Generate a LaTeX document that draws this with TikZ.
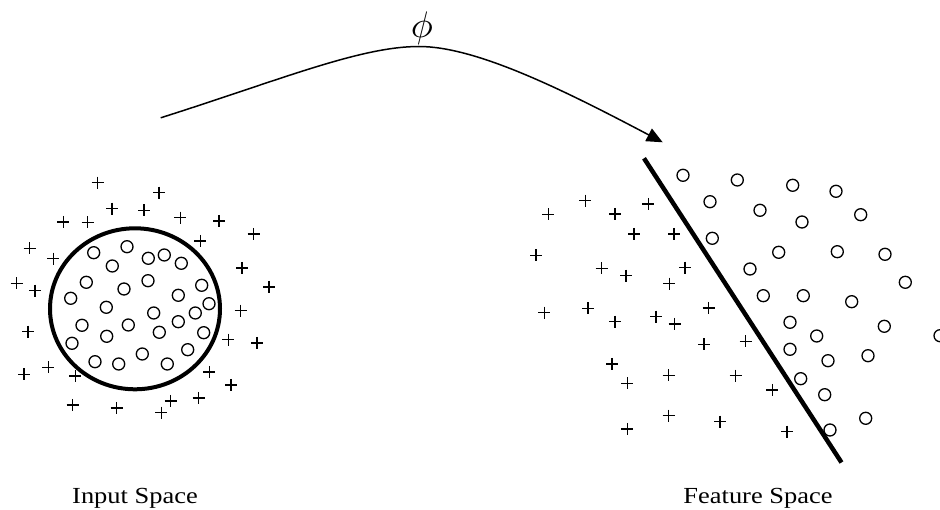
\documentclass[tikz,border=0pt]{standalone}
\usepackage{fontspec}
\setmainfont{Liberation Serif}
\usetikzlibrary{arrows.meta}
\begin{document}
\begin{tikzpicture}[x=1pt,y=-1pt,
  plusmark/.style={line width=1.4pt},
  ring/.style={line width=1.3pt},
  sep/.style={line width=4.5pt},
  lbl/.style={inner sep=0pt, anchor=base, font=\fontsize{23}{27}\selectfont},
  maparrow/.style={line width=1.5pt, -{Triangle[length=16pt,width=14pt]}}]
\clip (0,0) rectangle (940,510);
% Input space
\draw[line width=4pt] (135,308.8) ellipse [x radius=85pt, y radius=80.5pt];
\foreach \x/\y in {97.7/182.7, 159/192.7, 112/208.7, 144/210.3, 63.3/222, 87.7/222.3, 180.3/217.7, 219/221, 253.7/234, 29.7/248.3, 53.3/258.7, 200.3/241, 242/268, 16.7/283.3, 35/290.7, 269/287, 240.7/310.7, 28/331.7, 228.3/339.7, 257/343, 24/374.3, 48.3/367.3, 75.3/376, 209.3/372, 231/385, 72.7/405, 116.7/408, 170.7/401, 161.3/412.7, 198.7/398}
  \draw[plusmark] ({\x-6},\y) -- ({\x+6},\y) (\x,{\y-6}) -- (\x,{\y+6});
\foreach \x/\y in {93.7/252.7, 127/246.7, 148.3/258.3, 164.3/255, 181.3/263.3, 112.3/266, 86.3/282.3, 148/280.7, 124/289, 70.7/298.3, 201.7/285.3, 178.3/295.3, 209/303.7, 106.3/307.3, 153.7/313, 195.3/313, 82/325.3, 128.3/325, 178.3/321.7, 159.3/332.3, 203.7/332.7, 106.7/336.3, 72/343.3, 187.7/349.7, 142.3/354, 95/361.7, 118.7/364, 167.3/364}
  \draw[ring] (\x,\y) circle [radius=6pt];
% Feature space
\foreach \x/\y in {585.3/200.7, 548.3/214.3, 615/214, 648.3/204, 634/234, 674/234, 536/255.3, 601.7/268.3, 626/275.7, 685/267.7, 669.3/283.7, 544.3/312.7, 588/308.3, 615/321.7, 656/316.7, 674.7/324, 708.7/308, 704/344.3, 612/364, 627.3/383.3, 668.7/375.3, 668.7/415.7, 627.3/429, 720/421.7, 745.7/341.3, 735.7/375.7, 772.3/390, 787/431.7}
  \draw[plusmark] ({\x-6},\y) -- ({\x+6},\y) (\x,{\y-6}) -- (\x,{\y+6});
\foreach \x/\y in {683/175.3, 710/201.7, 712.3/238.3, 737.3/180, 792.7/185.3, 836/191.3, 760/210.3, 802/222, 860.7/214.7, 778.7/252.3, 837.3/251.7, 885/254.3, 750/269, 905.3/282.3, 763.3/295.7, 803.3/295.7, 851.7/301.7, 790/322.3, 816.7/336, 884.3/326.3, 940/335.7, 790/349.3, 828/360.7, 868/355.7, 800.7/378.7, 824.7/394.7, 865.7/418.3, 830/430}
  \draw[ring] (\x,\y) circle [radius=6pt];
\coordinate (lineTop) at (644,158.3);
\coordinate (lineBot) at (841.5,462.5);
\draw[sep] (lineTop) -- (lineBot);
% Mapping arrow
\coordinate (mapStart) at (160.7,117.8);
\coordinate (mapPeak) at (419,46.5);
\coordinate (mapEnd) at (662.7,142.3);
\draw[maparrow] (mapStart) .. controls (280,80) and (360,46.5) .. (mapPeak) .. controls (475,46.5) and (560,88) .. (mapEnd);
\node[inner sep=0pt, anchor=base] (phi) at (422,38) {\scalebox{3.7}{$\phi$}};
% Labels
\node[lbl] (inputLbl) at (135,503) {\scalebox{1.15}[1]{Input Space}};
\node[lbl] (featureLbl) at (758,503) {\scalebox{1.15}[1]{Feature Space}};
\end{tikzpicture}
\end{document}
